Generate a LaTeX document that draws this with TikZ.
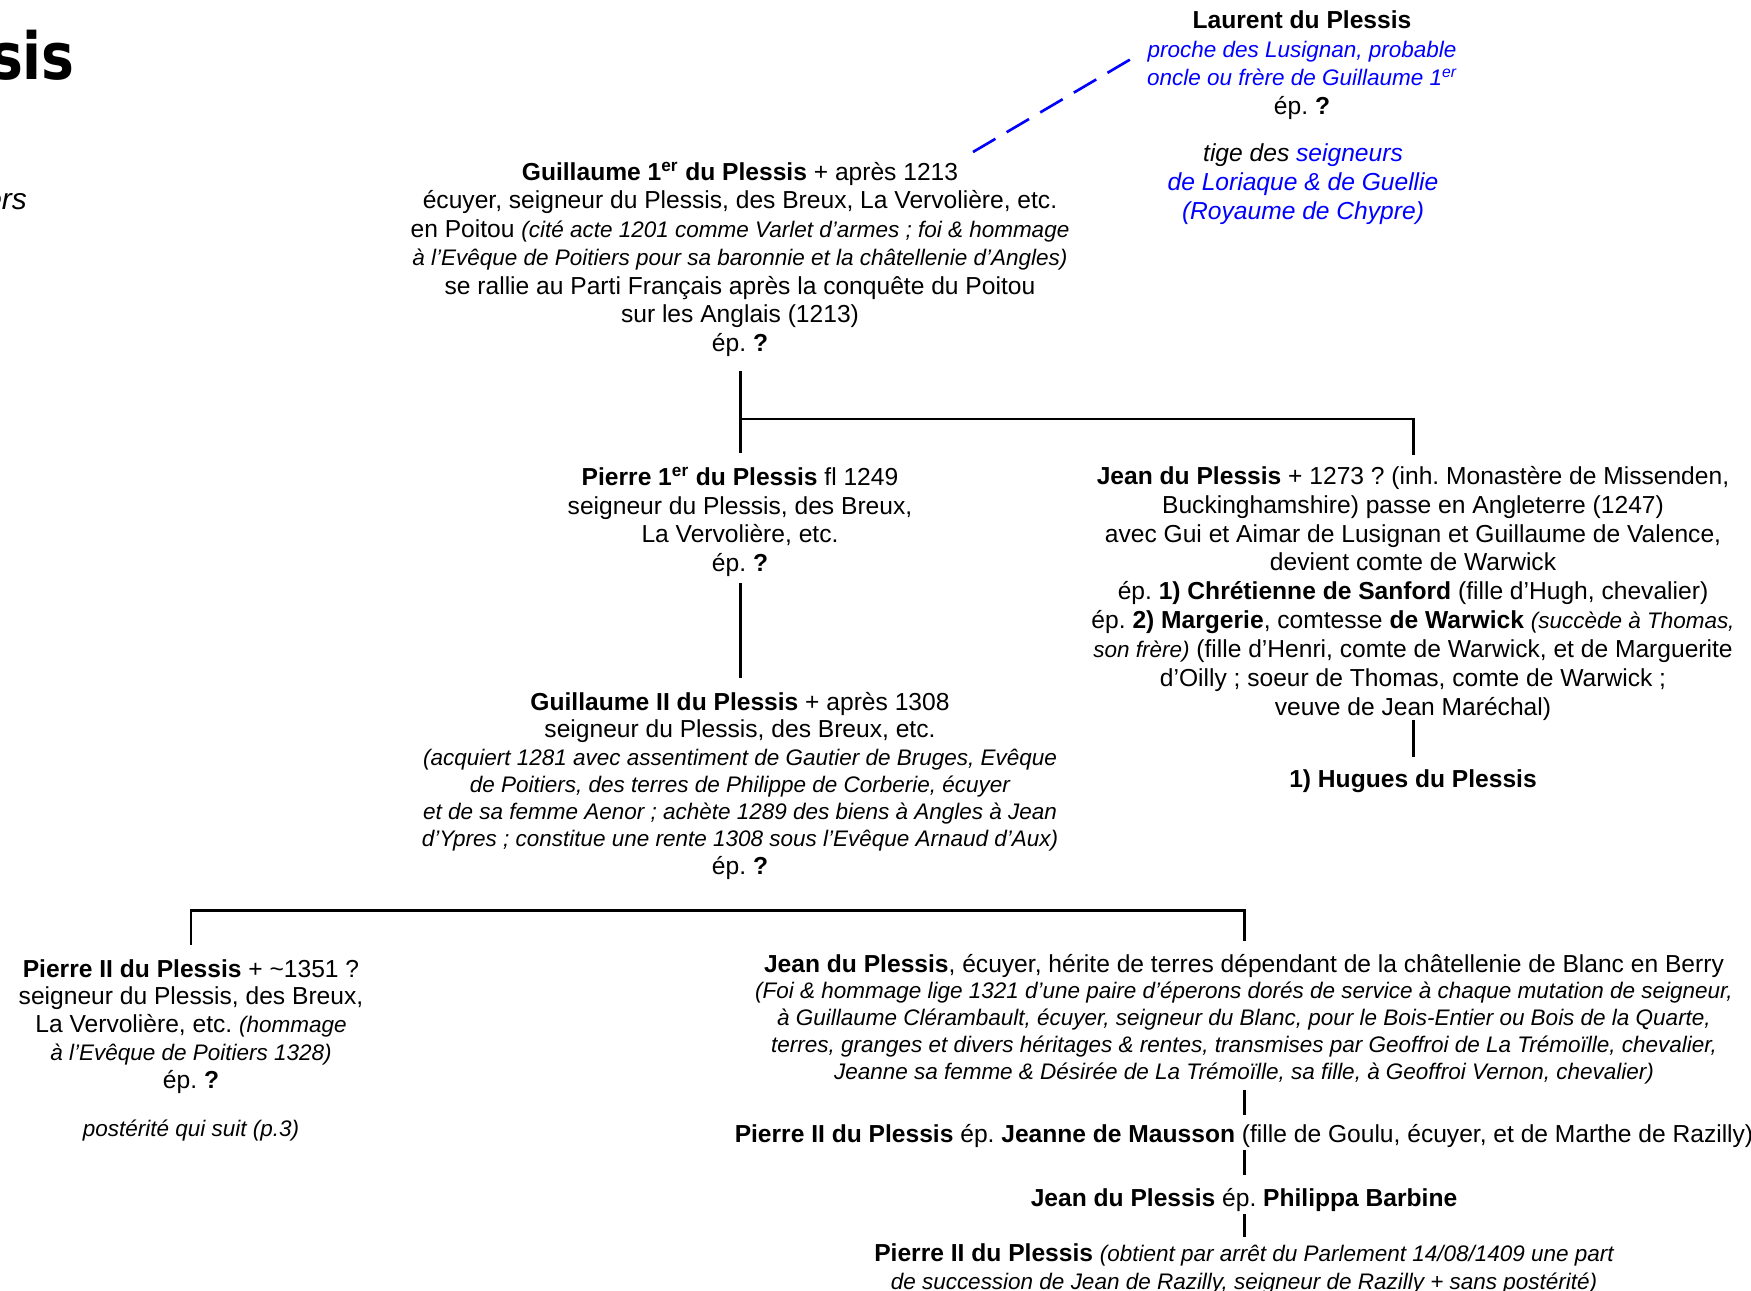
\documentclass[tikz,border=0pt]{standalone}
\usepackage{fontspec}
\setmainfont{Liberation Sans}
\newfontfamily\headfont[FakeStretch=0.85]{DejaVu Sans}
\newcommand{\notetxt}[1]{{\fontsize{12.8}{16.2}\selectfont\itshape #1}}
\frenchspacing

\begin{document}
\begin{tikzpicture}[x=0.02cm,y=-0.02cm,
    person/.style={align=center,inner sep=0pt,anchor=base,font=\fontsize{14}{16.2}\selectfont},
    tree/.style={line width=1.7pt},
    kin/.style={blue,line width=1.5pt,dash pattern=on 14.8pt off 7.4pt}]
        \useasboundingbox (0,0) rectangle (1751,1291);

        % Page heading, cut by the left margin
        \node[anchor=base east,font=\headfont\bfseries\fontsize{37}{40}\selectfont] (heading) at (81,80) {sis};
        \node[anchor=base east,font=\itshape\fontsize{17}{20}\selectfont] (subheading) at (33,209) {ers};

        % Laurent, kinsman (nodes are placed by the baseline of their last line)
        \node[person] (laurent) at (1302,114) {\textbf{Laurent du Plessis}\\
            {\color{blue}\notetxt{proche des Lusignan, probable}}\\
            {\color{blue}\notetxt{oncle ou frère de Guillaume 1\textsuperscript{er}}}\\
            ép. \textbf{?}};
        \node[person,font=\itshape\fontsize{14}{16.3}\selectfont] (tige) at (1303,219) {tige des \textcolor{blue}{seigneurs}\\
            \textcolor{blue}{de Loriaque \& de Guellie}\\
            \textcolor{blue}{(Royaume de Chypre)}};

        % Guillaume 1er
        \node[person] (g1) at (740,351) {\textbf{Guillaume 1\textsuperscript{er} du Plessis} + après 1213\\
            écuyer, seigneur du Plessis, des Breux, La Vervolière, etc.\\
            en Poitou \notetxt{(cité acte 1201 comme Varlet d’armes ; foi \& hommage}\\
            \notetxt{à l’Evêque de Poitiers pour sa baronnie et la châtellenie d’Angles)}\\
            se rallie au Parti Français après la conquête du Poitou\\
            sur les Anglais (1213)\\
            ép. \textbf{?}};

        % Sons of Guillaume 1er
        \node[person] (p1) at (740,571) {\textbf{Pierre 1\textsuperscript{er} du Plessis} fl 1249\\
            seigneur du Plessis, des Breux,\\
            La Vervolière, etc.\\
            ép. \textbf{?}};
        \node[person,font=\fontsize{14}{16.4}\selectfont] (jean2) at (1413,715) {\textbf{Jean du Plessis} + 1273 ? (inh. Monastère de Missenden,\\
            Buckinghamshire) passe en Angleterre (1247)\\
            avec Gui et Aimar de Lusignan et Guillaume de Valence,\\
            devient comte de Warwick\\
            ép. \textbf{1) Chrétienne de Sanford} (fille d’Hugh, chevalier)\\
            ép. \textbf{2) Margerie}, comtesse \textbf{de Warwick} \notetxt{(succède à Thomas,}\\
            \notetxt{son frère)} (fille d’Henri, comte de Warwick, et de Marguerite\\
            d’Oilly ; soeur de Thomas, comte de Warwick ;\\
            veuve de Jean Maréchal)};
        \node[person] (hugues) at (1413,787) {\textbf{1) Hugues du Plessis}};

        % Guillaume II
        \node[person,font=\fontsize{14}{15.5}\selectfont] (g2) at (740,874) {\textbf{Guillaume II du Plessis} + après 1308\\
            seigneur du Plessis, des Breux, etc.\\
            \notetxt{(acquiert 1281 avec assentiment de Gautier de Bruges, Evêque}\\
            \notetxt{de Poitiers, des terres de Philippe de Corberie, écuyer}\\
            \notetxt{et de sa femme Aenor ; achète 1289 des biens à Angles à Jean}\\
            \notetxt{d’Ypres ; constitue une rente 1308 sous l’Evêque Arnaud d’Aux)}\\
            ép. \textbf{?}};

        % Sons of Guillaume II
        \node[person,font=\fontsize{14}{15.9}\selectfont] (pII) at (191,1136) {\textbf{Pierre II du Plessis} + \textasciitilde1351 ?\\
            seigneur du Plessis, des Breux,\\
            La Vervolière, etc. \notetxt{(hommage}\\
            \notetxt{à l’Evêque de Poitiers 1328)}\\
            ép. \textbf{?}\\[11pt]
            \notetxt{postérité qui suit (p.3)}};
        \node[person,font=\fontsize{14}{15.2}\selectfont] (jB) at (1244,1079) {\textbf{Jean du Plessis}, écuyer, hérite de terres dépendant de la châtellenie de Blanc en Berry\\
            \notetxt{(Foi \& hommage lige 1321 d’une paire d’éperons dorés de service à chaque mutation de seigneur,}\\
            \notetxt{à Guillaume Clérambault, écuyer, seigneur du Blanc, pour le Bois-Entier ou Bois de la Quarte,}\\
            \notetxt{terres, granges et divers héritages \& rentes, transmises par Geoffroi de La Trémoïlle, chevalier,}\\
            \notetxt{Jeanne sa femme \& Désirée de La Trémoïlle, sa fille, à Geoffroi Vernon, chevalier)}};

        % Line of Jean
        \node[person] (pj) at (1244,1142) {\textbf{Pierre II du Plessis} ép. \textbf{Jeanne de Mausson} (fille de Goulu, écuyer, et de Marthe de Razilly)};
        \node[person] (jp) at (1244,1206) {\textbf{Jean du Plessis} ép. \textbf{Philippa Barbine}};
        \node[person,font=\fontsize{14}{15.4}\selectfont] (po) at (1244,1289) {\textbf{Pierre II du Plessis} \notetxt{(obtient par arrêt du Parlement 14/08/1409 une part}\\
            \notetxt{de succession de Jean de Razilly, seigneur de Razilly + sans postérité)}};

        % Kinship, dashed
        \coordinate (kin1) at (973,152);
        \coordinate (kin2) at (1131,59);
        \draw[kin] (kin1) -- (kin2);

        % Descent lines
        \coordinate (fork1) at (740,419);
        \coordinate (fork2) at (700,910);
        \draw[tree,shorten <=8.5pt,shorten >=8pt] (g1.south) -- (p1.north);
        \draw[tree,shorten >=6.3pt] (fork1) -| (jean2.north);
        \draw[tree,shorten <=4pt,shorten >=8pt] (p1.south) -- (g2.north);
        \draw[tree,shorten >=7pt] (jean2.south) -- (hugues.north);
        \draw[tree,shorten <=8pt,shorten >=7.4pt] (pII.north) |- (fork2) -| (jB.north);
        \draw[tree,shorten <=3.4pt,shorten >=5pt] (jB.south) -- (pj.north);
        \draw[tree,shorten <=1.7pt,shorten >=7pt] (pj.south) -- (jp.north);
        \draw[tree,shorten <=1.7pt,shorten >=4pt] (jp.south) -- (po.north);

\end{tikzpicture}
\end{document}
